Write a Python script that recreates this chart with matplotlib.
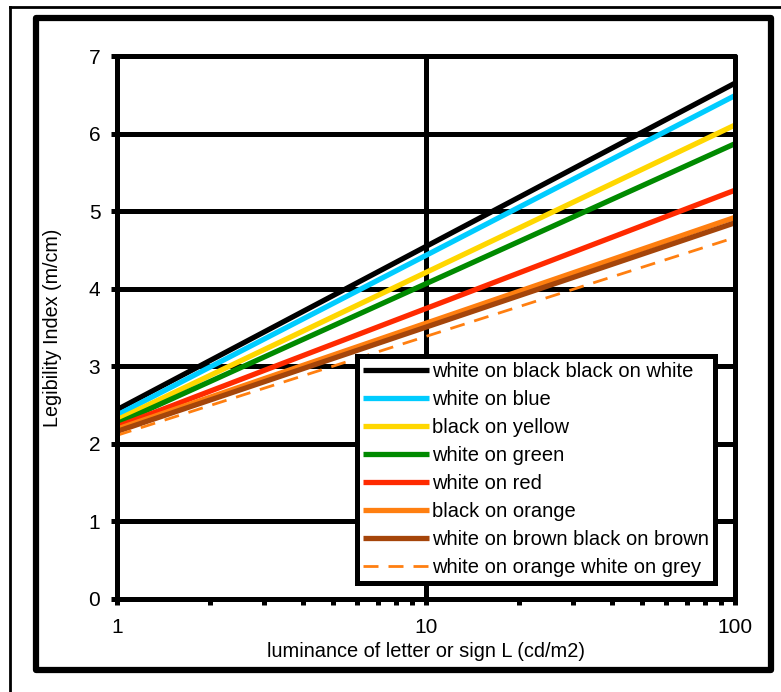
import matplotlib
matplotlib.use("Agg")
import matplotlib.pyplot as plt
from matplotlib.patches import Rectangle
from matplotlib.lines import Line2D
from matplotlib.ticker import LogLocator, FixedLocator, NullFormatter

plt.rcParams['font.family'] = ['Liberation Sans', 'DejaVu Sans']

# luminance end points (log axis), legibility index at each end
lum = [1, 100]
labels = ["white on black black on white", "white on blue", "black on yellow",
          "white on green", "white on red", "black on orange",
          "white on brown black on brown", "white on orange white on grey"]
values = [
    [2.44, 6.65],
    [2.37, 6.49],
    [2.31, 6.11],
    [2.26, 5.87],
    [2.22, 5.27],
    [2.19, 4.92],
    [2.16, 4.85],
    [2.11, 4.66],
]
colors = ['#000000', '#00CCFF', '#FFD700', '#008A00', '#FF2A00', '#FF7F10', '#A5450A', '#FF7F10']
yticks = [0, 1, 2, 3, 4, 5, 6, 7]
xticks = [1, 10, 100]
xticklabels = ["1", "10", "100"]

W, H = 781, 692
fig = plt.figure(figsize=(W / 100, H / 100), dpi=100)

# outer frames
fig.add_artist(Line2D([10 / W, 10 / W], [0, 1 - 7 / H], transform=fig.transFigure, color='black', lw=2))
fig.add_artist(Line2D([10 / W, 1], [1 - 7 / H, 1 - 7 / H], transform=fig.transFigure, color='black', lw=2))
fig.add_artist(Rectangle((36 / W, 1 - 670 / H), (771 - 36) / W, (670 - 18) / H,
                         transform=fig.transFigure, fill=False, lw=4.5, ec='black', joinstyle='round'))

ax = fig.add_axes([117 / W, 1 - 599 / H, (735 - 117) / W, (599 - 56) / H])

for i, lab in enumerate(labels):
    if i == 7:
        ax.plot(lum, values[i], color=colors[i], lw=2.0, dashes=(5.4, 3.6), label=lab)
    else:
        ax.plot(lum, values[i], color=colors[i], lw=3.8, solid_capstyle='butt', label=lab)

ax.set_xscale('log')
ax.set_xlim(1, 100)
ax.set_ylim(0, 7)
ax.xaxis.set_major_locator(FixedLocator(xticks))
ax.set_xticklabels(xticklabels)
ax.xaxis.set_minor_locator(LogLocator(base=10, subs=range(2, 10)))
ax.xaxis.set_minor_formatter(NullFormatter())
ax.set_yticks(yticks)

ax.grid(True, which='major', color='black', lw=3.6)
ax.set_axisbelow(True)
for s in ax.spines.values():
    s.set_linewidth(3.6)
    s.set_capstyle('round')

ax.tick_params(which='both', direction='out', length=4, width=3.6, labelsize=15, pad=8)
ax.tick_params(axis='x', which='major', pad=10)
for t in ax.xaxis.get_ticklines(minor=True) + ax.xaxis.get_ticklines() + ax.yaxis.get_ticklines():
    t.set_solid_capstyle('round')

ax.set_xlabel("luminance of letter or sign L (cd/m2)", fontsize=14.4, labelpad=3)
ax.set_ylabel("Legibility Index (m/cm)", fontsize=14.2, labelpad=19)

leg = ax.legend(loc='lower left', bbox_to_anchor=(0.388, 0.029), borderaxespad=0,
                fontsize=14.5, handlelength=3.3, handletextpad=0.15, labelspacing=0.45,
                fancybox=False, framealpha=1, edgecolor='black', borderpad=0.3)
leg.get_frame().set_linewidth(3.6)

fig.savefig("out.png", dpi=100)
